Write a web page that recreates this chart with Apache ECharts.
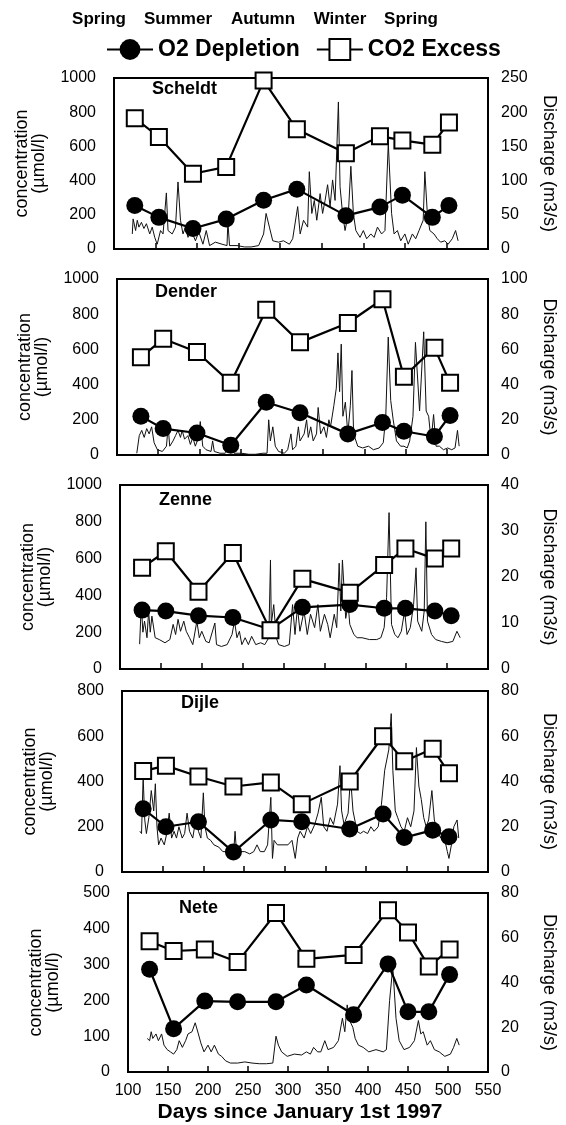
<!DOCTYPE html>
<html>
<head>
<meta charset="utf-8">
<title>O2 depletion and CO2 excess</title>
<script src="https://cdn.jsdelivr.net/npm/echarts@6/dist/echarts.min.js"></script>
<style>
  html, body { margin: 0; padding: 0; background: #fff; }
  #chart { width: 566px; height: 1125px; }
</style>
</head>
<body>
<div id="chart"></div>
<script>
// ---- data ----
const seasons = ['Spring', 'Summer', 'Autumn', 'Winter', 'Spring'];
const dayTicks = [100, 150, 200, 250, 300, 350, 400, 450, 500, 550];

// Scheldt
const scheldtDays = [125, 154, 195, 235, 280, 320, 379, 420, 447, 483, 503];
const scheldtO2 = [255, 185, 120, 175, 285, 350, 195, 245, 315, 185, 255];
const scheldtCO2 = [765, 655, 440, 480, 985, 700, 560, 660, 635, 610, 740];
const scheldtQDays = [122, 123, 126, 128, 130, 133, 136, 139, 143, 146, 149, 152, 156, 159, 163, 165, 170, 174, 177, 180,
  183, 186, 189, 193, 198, 202, 207, 211, 215, 222, 230, 236, 237, 239, 248, 257, 265, 274, 280, 283,
  287, 291, 298, 304, 311, 315, 321, 324, 328, 333, 335, 338, 341, 344, 348, 351, 354, 357, 360, 363,
  366, 370, 372, 375, 378, 382, 385, 388, 391, 396, 400, 404, 409, 413, 417, 422, 426, 430, 434, 437,
  441, 445, 450, 454, 459, 463, 467, 472, 474, 477, 480, 485, 489, 493, 498, 502, 507, 511, 514];
const scheldtQ = [22, 44, 27, 42, 32, 39, 30, 37, 22, 32, 17, 7, 27, 22, 82, 27, 22, 32, 98, 42,
  22, 32, 17, 27, 12, 25, 7, 27, 5, 10, 7, 5, 40, 5, 5, 3, 3, 5, 22, 52,
  32, 12, 10, 12, 7, 15, 62, 22, 42, 32, 113, 52, 71, 42, 81, 52, 71, 94, 62, 101,
  71, 215, 91, 52, 27, 52, 121, 52, 27, 17, 27, 15, 22, 17, 32, 22, 27, 155, 52, 22,
  27, 12, 22, 7, 22, 15, 27, 42, 113, 52, 27, 22, 15, 10, 12, 7, 15, 27, 12];

// Dender
const denderDays = [129, 156, 197, 238, 281, 322, 380, 422, 448, 485, 504];
const denderO2 = [220, 150, 125, 55, 300, 240, 120, 185, 135, 105, 225];
const denderCO2 = [555, 660, 585, 410, 825, 640, 750, 885, 445, 610, 410];
const denderQDays = [124, 127, 130, 133, 136, 139, 142, 145, 149, 155, 160, 162, 164, 168, 171, 174, 177, 179, 182, 186,
  189, 192, 195, 199, 201, 204, 208, 214, 216, 218, 225, 231, 238, 242, 251, 260, 268, 277, 282, 284,
  286, 289, 292, 296, 303, 307, 311, 313, 317, 320, 322, 327, 330, 332, 335, 338, 342, 344, 347, 351,
  354, 357, 359, 363, 366, 368, 370, 372, 374, 377, 380, 383, 385, 387, 392, 398, 405, 411, 418, 423,
  426, 429, 432, 435, 439, 444, 448, 452, 455, 459, 462, 467, 472, 475, 478, 481, 484, 487, 491, 496,
  501, 506, 510, 513, 515];
const denderQ = [1, 11, 14, 10, 15, 12, 16, 7, 3, 2, 5, 16, 5, 8, 11, 14, 10, 14, 9, 11,
  6, 10, 5, 10, 19, 5, 3, 2, 8, 2, 1, 1, 4, 1, 1, 0.4, 0.4, 1, 1, 20,
  8, 16, 5, 2, 1, 3, 12, 3, 5, 16, 8, 12, 20, 10, 16, 8, 12, 27, 12, 16,
  10, 20, 16, 28, 38, 58, 36, 63, 22, 30, 12, 28, 48, 12, 5, 4, 5, 3, 4, 7,
  22, 67, 31, 20, 8, 5, 5, 4, 8, 22, 64, 25, 70, 25, 22, 8, 23, 5, 5, 3,
  4, 3, 4, 14, 5];

// Zenne
const zenneDays = [127, 156, 196, 238, 284, 323, 381, 423, 449, 485, 505];
const zenneO2 = [320, 315, 290, 280, 215, 335, 350, 330, 330, 315, 290];
const zenneCO2 = [550, 640, 420, 630, 210, 490, 415, 565, 655, 600, 655];
const zenneQDays = [124, 126, 128, 130, 133, 135, 137, 139, 143, 148, 155, 161, 165, 168, 171, 174, 178, 181, 185, 189,
  194, 197, 200, 205, 209, 216, 218, 224, 231, 237, 240, 243, 246, 249, 253, 257, 261, 266, 272, 277,
  282, 284, 285, 288, 291, 294, 301, 307, 311, 314, 317, 320, 325, 329, 333, 338, 342, 345, 350, 354,
  357, 362, 365, 368, 370, 372, 376, 379, 381, 386, 390, 396, 405, 414, 419, 423, 426, 429, 432, 436,
  440, 444, 448, 451, 455, 459, 462, 464, 469, 472, 474, 476, 481, 486, 493, 500, 507, 512, 516];
const zenneQ = [5.4, 14, 8, 10.4, 6.8, 12.6, 8, 11.5, 6.8, 6.4, 5.7, 6.4, 9.7, 7.5, 10.8, 8.2, 10.4, 8.2, 6.8, 5.3,
  10.4, 6.8, 8.2, 6, 5.7, 10, 5.3, 4.9, 5.3, 7.5, 10.4, 6.8, 8.2, 5.3, 6.8, 5.3, 7.1, 5.3, 5.7, 5.3,
  6.8, 23.7, 9.7, 14, 6.8, 5.3, 4.9, 5.3, 14, 7.5, 13.4, 8.2, 12.6, 7.5, 11.9, 9, 14, 8.2, 11.9, 9.7,
  6.8, 11.9, 9, 23, 12.6, 23.7, 11, 14, 9.7, 7.5, 6.8, 6.8, 6.4, 6.4, 6.8, 9, 15.6, 34, 9.7, 7.5,
  6.8, 8.2, 12.6, 7.5, 9, 14, 22, 10.4, 8.2, 12.6, 32, 10.4, 7.5, 6.4, 6, 5.7, 6, 8.2, 6.8];

// Dijle
const dijleDays = [126, 154, 194, 237, 283, 321, 380, 421, 447, 482, 502];
const dijleO2 = [280, 200, 222, 88, 230, 222, 190, 256, 152, 185, 156];
const dijleCO2 = [446, 470, 422, 378, 396, 300, 400, 600, 490, 545, 437];
const dijleQDays = [122, 124, 126, 128, 130, 133, 136, 139, 141, 143, 145, 148, 152, 155, 158, 161, 164, 167, 170, 174,
  177, 180, 183, 187, 191, 194, 197, 200, 202, 205, 209, 213, 219, 224, 229, 233, 237, 239, 241, 246,
  251, 257, 262, 266, 270, 275, 279, 283, 285, 287, 291, 298, 304, 309, 313, 316, 319, 324, 328, 332,
  337, 341, 345, 348, 352, 356, 360, 365, 368, 370, 373, 378, 381, 384, 389, 393, 397, 402, 406, 410,
  415, 419, 423, 428, 431, 433, 436, 439, 443, 447, 451, 455, 459, 462, 465, 468, 471, 474, 477, 481,
  484, 488, 492, 497, 500, 502, 505, 508, 512, 514];
const dijleQ = [18, 17, 42, 23, 17, 24, 36, 27, 39, 20, 12, 15, 12, 17, 26, 15, 18, 15, 20, 15,
  17, 26, 18, 15, 24, 18, 15, 35, 20, 15, 14, 12, 11, 9, 9, 8, 7, 18, 8, 9,
  9, 8, 9, 12, 9, 9, 12, 33, 6, 14, 12, 12, 12, 14, 6, 15, 18, 15, 20, 17,
  21, 26, 33, 20, 18, 24, 21, 30, 47, 27, 21, 26, 42, 27, 18, 17, 18, 17, 20, 18,
  20, 30, 45, 54, 70, 45, 27, 24, 20, 18, 24, 20, 27, 55, 38, 32, 24, 20, 23, 36,
  23, 18, 15, 14, 9, 6, 12, 20, 23, 15];

// Nete
const neteDays = [127, 157, 196, 237, 285, 323, 382, 425, 450, 476, 502];
const neteO2 = [287, 121, 198, 196, 196, 243, 160, 302, 168, 168, 272];
const neteCO2 = [365, 338, 342, 307, 444, 316, 327, 452, 390, 295, 342];
const neteQDays = [124, 127, 129, 131, 135, 138, 142, 145, 149, 153, 157, 161, 164, 168, 172, 175, 180, 184, 188, 191,
  195, 200, 204, 208, 213, 217, 222, 228, 237, 246, 255, 264, 273, 281, 285, 288, 292, 299, 308, 317,
  323, 328, 332, 337, 341, 346, 350, 357, 363, 368, 371, 374, 377, 381, 384, 388, 394, 401, 410, 419,
  423, 427, 431, 435, 439, 445, 452, 458, 463, 466, 469, 474, 478, 483, 489, 496, 503, 507, 511, 514];
const neteQ = [15, 14, 18, 15, 17, 14, 17, 12, 10, 9, 8, 10, 14, 11, 14, 17, 18, 22, 17, 13,
  9, 12, 9, 12, 8, 7, 5, 4, 4, 4.5, 4, 3.7, 3.7, 4, 16, 12, 9, 7, 8, 7.6,
  9, 8, 11, 9, 9, 14, 10, 11, 14, 24, 18, 30, 23, 20, 15, 12, 11, 9, 10, 9,
  10, 32, 47, 24, 14, 10, 11, 14, 23, 17, 18, 12, 14, 10, 9, 7, 8, 11, 15, 12];

const rivers = ['Scheldt', 'Dender', 'Zenne', 'Dijle', 'Nete'];
const concMax = [1000, 1000, 1000, 800, 500];
const concStep = [200, 200, 200, 200, 100];
const qMax = [250, 100, 40, 80, 80];
const qStep = [50, 20, 10, 20, 20];

const panels = [
  { days: scheldtDays, o2: scheldtO2, co2: scheldtCO2, qDays: scheldtQDays, q: scheldtQ },
  { days: denderDays, o2: denderO2, co2: denderCO2, qDays: denderQDays, q: denderQ },
  { days: zenneDays, o2: zenneO2, co2: zenneCO2, qDays: zenneQDays, q: zenneQ },
  { days: dijleDays, o2: dijleO2, co2: dijleCO2, qDays: dijleQDays, q: dijleQ },
  { days: neteDays, o2: neteO2, co2: neteCO2, qDays: neteQDays, q: neteQ }
];

// ---- layout (pixels) ----
const boxes = [
  { left: 114, top: 78, width: 375, height: 171, tx: 152, ty: 80 },
  { left: 117, top: 279, width: 374, height: 176, tx: 155, ty: 283 },
  { left: 120, top: 485, width: 372, height: 184, tx: 159, ty: 491 },
  { left: 122, top: 691, width: 375, height: 181, tx: 181, ty: 694 },
  { left: 128, top: 893, width: 370, height: 179, tx: 179, ty: 899 }
];
const seasonX = [99, 178, 263, 340, 411];

const FONT = '"Liberation Sans", Arial, Helvetica, sans-serif';
const txt = { color: '#000', fontFamily: FONT, fontSize: 16, formatter: v => String(v) };

const chart = echarts.init(document.getElementById('chart'), null, { renderer: 'canvas' });

const grid = [], xAxis = [], yAxis = [], series = [], title = [];

panels.forEach((p, i) => {
  const b = boxes[i];
  const last = i === panels.length - 1;

  grid.push({ left: b.left, top: b.top, width: b.width, height: b.height, show: true, borderColor: '#000', borderWidth: 2, containLabel: false });

  title.push({ text: rivers[i], left: b.tx, top: b.ty, padding: 0,
    textStyle: { color: '#000', fontFamily: FONT, fontSize: 18, fontWeight: 'bold' } });

  xAxis.push({
    type: 'value', gridIndex: i, min: dayTicks[0], max: dayTicks[dayTicks.length - 1], interval: 50,
    axisLine: { show: false },
    axisTick: { show: true, inside: true, length: 6, lineStyle: { color: '#000', width: 1.5 } },
    axisLabel: Object.assign({ show: last, margin: 11 }, txt),
    splitLine: { show: false }
  });

  yAxis.push({
    type: 'value', gridIndex: i, position: 'left', min: 0, max: concMax[i], interval: concStep[i],
    name: 'concentration\n(µmol/l)', nameLocation: 'middle', nameRotate: 90, nameGap: 66,
    nameMoveOverlap: false,
    nameTextStyle: { color: '#000', fontFamily: FONT, fontSize: 18, lineHeight: 17 },
    axisLine: { show: false }, axisTick: { show: false }, splitLine: { show: false },
    axisLabel: Object.assign({ margin: 18 }, txt)
  });
  yAxis.push({
    type: 'value', gridIndex: i, position: 'right', min: 0, max: qMax[i], interval: qStep[i],
    name: 'Discharge (m3/s)', nameLocation: 'middle', nameRotate: -90, nameGap: 52,
    nameMoveOverlap: false,
    nameTextStyle: { color: '#000', fontFamily: FONT, fontSize: 18 },
    axisLine: { show: false }, axisTick: { show: false }, splitLine: { show: false },
    axisLabel: Object.assign({ margin: 13 }, txt)
  });

  series.push({
    name: 'Discharge', type: 'line', xAxisIndex: i, yAxisIndex: 2 * i + 1,
    data: p.qDays.map((d, k) => [d, p.q[k]]),
    showSymbol: false, symbol: 'none', silent: true, z: 1,
    lineStyle: { color: '#111', width: 1 }
  });
  series.push({
    name: 'O2 Depletion', type: 'line', xAxisIndex: i, yAxisIndex: 2 * i,
    data: p.days.map((d, k) => [d, p.o2[k]]),
    symbol: 'circle', symbolSize: 17, z: 3,
    itemStyle: { color: '#000' },
    lineStyle: { color: '#000', width: 2.2 }
  });
  series.push({
    name: 'CO2 Excess', type: 'line', xAxisIndex: i, yAxisIndex: 2 * i,
    data: p.days.map((d, k) => [d, p.co2[k]]),
    symbol: 'rect', symbolSize: 16, z: 4,
    itemStyle: { color: '#fff', borderColor: '#000', borderWidth: 2 },
    lineStyle: { color: '#000', width: 2.2 }
  });
});

const graphic = seasons.map((s, k) => ({
  type: 'text', x: seasonX[k], y: 19,
  style: { text: s, fill: '#000', font: 'bold 17px ' + FONT, align: 'center', verticalAlign: 'middle' }
}));
graphic.push({
  type: 'text', x: 300, y: 1112,
  style: { text: 'Days since January 1st 1997', fill: '#000', font: 'bold 21px ' + FONT, align: 'center', verticalAlign: 'middle' }
});

chart.setOption({
  animation: false,
  backgroundColor: '#fff',
  title: title,
  legend: {
    data: ['O2 Depletion', 'CO2 Excess'],
    left: 106, top: 38, padding: 0,
    itemWidth: 46, itemHeight: 26, itemGap: 16,
    textStyle: { color: '#000', fontFamily: FONT, fontSize: 23, fontWeight: 'bold' }
  },
  grid: grid,
  xAxis: xAxis,
  yAxis: yAxis,
  series: series,
  graphic: graphic
});
</script>
</body>
</html>
